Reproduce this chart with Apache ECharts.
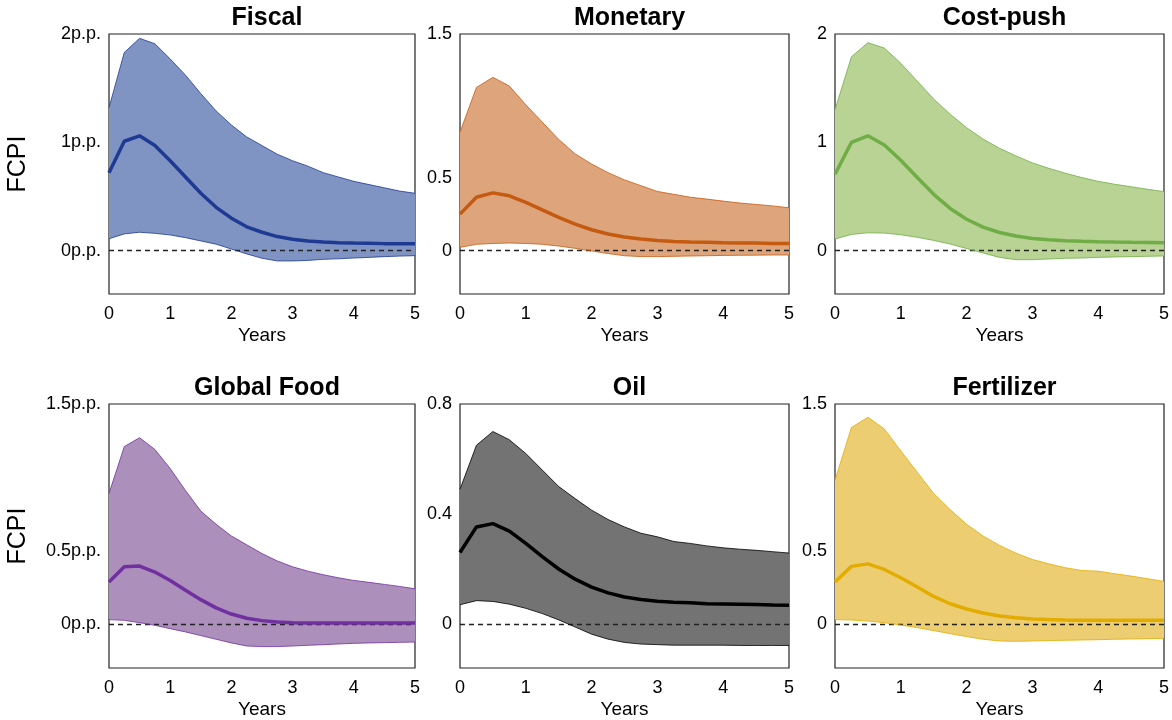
<!DOCTYPE html>
<html>
<head>
<meta charset="utf-8">
<script src="https://cdn.jsdelivr.net/npm/echarts@6/dist/echarts.min.js"></script>
<style>html,body{margin:0;padding:0;background:#fff}#c{width:1172px;height:720px}</style>
</head>
<body>
<div id="c"></div>
<script>
// ---- data ----
const years = [0,0.25,0.5,0.75,1,1.25,1.5,1.75,2,2.25,2.5,2.75,3,3.25,3.5,3.75,4,4.25,4.5,4.75,5];
const titles = ['Fiscal','Monetary','Cost-push','Global Food','Oil','Fertilizer'];

const fiscalUpper = [1.32,1.83,1.96,1.91,1.77,1.62,1.45,1.29,1.16,1.05,0.97,0.89,0.83,0.78,0.72,0.68,0.64,0.61,0.58,0.55,0.53];
const fiscalMean  = [0.72,1.01,1.06,0.97,0.83,0.68,0.53,0.40,0.30,0.22,0.17,0.13,0.105,0.09,0.08,0.074,0.07,0.068,0.065,0.065,0.063];
const fiscalLower = [0.11,0.155,0.17,0.16,0.145,0.12,0.09,0.06,0.015,-0.03,-0.07,-0.095,-0.095,-0.09,-0.08,-0.075,-0.068,-0.062,-0.055,-0.05,-0.046];

const monetaryUpper = [0.82,1.13,1.20,1.14,1.01,0.89,0.77,0.67,0.60,0.54,0.49,0.45,0.41,0.39,0.37,0.357,0.343,0.33,0.32,0.31,0.297];
const monetaryMean  = [0.253,0.37,0.40,0.38,0.334,0.283,0.23,0.184,0.145,0.115,0.094,0.08,0.071,0.064,0.06,0.058,0.055,0.053,0.053,0.05,0.05];
const monetaryLower = [0.023,0.044,0.05,0.053,0.05,0.044,0.032,0.016,-0.002,-0.02,-0.035,-0.041,-0.041,-0.039,-0.037,-0.035,-0.033,-0.032,-0.031,-0.03,-0.03];

const costUpper = [1.30,1.79,1.92,1.87,1.73,1.565,1.40,1.26,1.135,1.03,0.945,0.875,0.81,0.76,0.715,0.675,0.64,0.613,0.59,0.567,0.545];
const costMean  = [0.705,1.0,1.06,0.975,0.834,0.675,0.52,0.39,0.29,0.217,0.168,0.135,0.113,0.10,0.092,0.086,0.082,0.079,0.077,0.076,0.074];
const costLower = [0.107,0.15,0.165,0.162,0.147,0.123,0.095,0.061,0.02,-0.022,-0.062,-0.083,-0.083,-0.077,-0.07,-0.068,-0.062,-0.058,-0.055,-0.052,-0.049];

const foodUpper = [0.89,1.21,1.27,1.19,1.06,0.91,0.77,0.68,0.60,0.54,0.48,0.43,0.39,0.36,0.336,0.315,0.297,0.284,0.27,0.256,0.24];
const foodMean  = [0.286,0.39,0.395,0.354,0.297,0.23,0.166,0.11,0.068,0.039,0.023,0.014,0.009,0.007,0.007,0.007,0.007,0.007,0.007,0.007,0.007];
const foodLower = [0.03,0.025,0.009,-0.009,-0.032,-0.054,-0.079,-0.104,-0.129,-0.15,-0.154,-0.154,-0.15,-0.145,-0.141,-0.136,-0.132,-0.129,-0.127,-0.125,-0.123];

const oilUpper = [0.49,0.65,0.70,0.67,0.62,0.56,0.50,0.456,0.414,0.38,0.353,0.33,0.317,0.30,0.293,0.284,0.277,0.272,0.268,0.263,0.258];
const oilMean  = [0.26,0.353,0.365,0.338,0.293,0.245,0.20,0.163,0.134,0.113,0.098,0.089,0.083,0.079,0.077,0.074,0.073,0.072,0.071,0.069,0.068];
const oilLower = [0.07,0.085,0.082,0.072,0.057,0.038,0.015,-0.011,-0.037,-0.055,-0.067,-0.073,-0.075,-0.077,-0.077,-0.077,-0.077,-0.078,-0.078,-0.078,-0.078];

const fertUpper = [0.98,1.34,1.41,1.33,1.18,1.035,0.89,0.78,0.68,0.60,0.536,0.483,0.44,0.41,0.384,0.365,0.36,0.343,0.327,0.309,0.29];
const fertMean  = [0.286,0.393,0.41,0.372,0.315,0.252,0.188,0.138,0.102,0.075,0.054,0.043,0.034,0.03,0.027,0.025,0.025,0.025,0.025,0.025,0.025];
const fertLower = [0.03,0.027,0.02,0.009,-0.007,-0.025,-0.045,-0.066,-0.086,-0.104,-0.116,-0.118,-0.116,-0.113,-0.111,-0.109,-0.107,-0.104,-0.102,-0.10,-0.098];

const yTicks = [[0,1,2],[0,0.5,1.5],[0,1,2],[0,0.5,1.5],[0,0.4,0.8],[0,0.5,1.5]];
const yMin = [-0.4,-0.3,-0.4,-0.3,-0.16,-0.3];
const yMax = [2,1.5,2,1.5,0.8,1.5];
const xTicks = [0,1,2,3,4,5];

const uppers = [fiscalUpper,monetaryUpper,costUpper,foodUpper,oilUpper,fertUpper];
const means  = [fiscalMean,monetaryMean,costMean,foodMean,oilMean,fertMean];
const lowers = [fiscalLower,monetaryLower,costLower,foodLower,oilLower,fertLower];

// ---- style ----
const lineColors = ['#1f3a93','#c55a11','#70ad47','#7030a0','#000000','#e2ac00'];
const fillColors = ['#8094c4','#dea47b','#b8d393','#ad8fbb','#737373','#edcd72'];
const suffix = ['p.p.','','','p.p.','',''];
const lefts = [109,460,835];
const widths = [306,329,329];
const tops = [34,404];
const heights = [260,264];
const FONT = '"Liberation Sans", Arial, sans-serif';

const grids=[], xAxes=[], yAxes=[], series=[], titleArr=[];
for (let i=0;i<6;i++){
  const col=i%3, row=Math.floor(i/3);
  grids.push({left:lefts[col], top:tops[row], width:widths[col], height:heights[row],
    show:true, borderColor:'#222', borderWidth:1.2, backgroundColor:'transparent', containLabel:false});
  titleArr.push({text:titles[i], left:lefts[col]+widths[col]/2, top:tops[row]-33, textAlign:'center',
    textStyle:{fontFamily:FONT, fontWeight:'bold', fontSize:25, color:'#000'}});
  xAxes.push({type:'value', gridIndex:i, min:0, max:5, interval:1,
    name:'Years', nameLocation:'middle', nameGap:32,
    nameTextStyle:{fontFamily:FONT, fontSize:19, color:'#000'},
    axisLine:{show:false}, axisTick:{show:false}, splitLine:{show:false},
    axisLabel:{customValues:xTicks, fontFamily:FONT, fontSize:18, color:'#000', margin:11}});
  const sfx = suffix[i];
  yAxes.push({type:'value', gridIndex:i, min:yMin[i], max:yMax[i],
    name: col===0 ? 'FCPI' : '', nameLocation:'middle', nameGap:78, nameRotate:90,
    nameTextStyle:{fontFamily:FONT, fontSize:25, color:'#000'},
    axisLine:{show:false}, axisTick:{show:false}, splitLine:{show:false},
    axisLabel:{customValues:yTicks[i], fontFamily:FONT, fontSize:18, color:'#000', margin:8,
      formatter:function(v){return v+sfx;}}});
  const up=uppers[i], lo=lowers[i], mn=means[i];
  series.push({type:'custom', xAxisIndex:i, yAxisIndex:i, silent:true, z:1,
    data:[[0,0]],
    renderItem:function(params, api){
      const pts=[];
      for (let k=0;k<years.length;k++) pts.push(api.coord([years[k], up[k]]));
      for (let k=years.length-1;k>=0;k--) pts.push(api.coord([years[k], lo[k]]));
      return {type:'polygon', shape:{points:pts}, style:{fill:fillColors[i], stroke:null}};
    }});
  series.push({type:'line', xAxisIndex:i, yAxisIndex:i, silent:true, z:2, symbol:'none',
    data: years.map((x,k)=>[x, up[k]]), lineStyle:{color:lineColors[i], width:0.8}});
  series.push({type:'line', xAxisIndex:i, yAxisIndex:i, silent:true, z:2, symbol:'none',
    data: years.map((x,k)=>[x, lo[k]]), lineStyle:{color:lineColors[i], width:0.8}});
  series.push({type:'line', xAxisIndex:i, yAxisIndex:i, silent:true, z:3, symbol:'none',
    data: years.map((x,k)=>[x, mn[k]]), lineStyle:{color:lineColors[i], width:3.5},
    markLine:{silent:true, symbol:'none', label:{show:false}, z:2,
      lineStyle:{type:[5,4], color:'#222', width:1.3}, data:[{yAxis:0}]}});
}

const chart = echarts.init(document.getElementById('c'), null, {renderer:'canvas'});
chart.setOption({animation:false, backgroundColor:'#fff', title:titleArr, grid:grids, xAxis:xAxes, yAxis:yAxes, series:series});
</script>
</body>
</html>
